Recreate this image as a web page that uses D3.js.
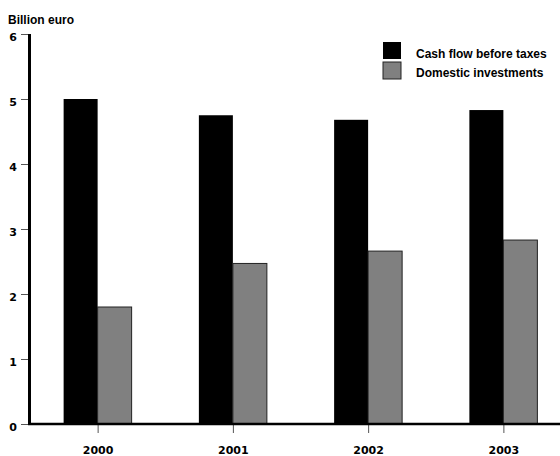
<!DOCTYPE html>
<html>
<head>
<meta charset="utf-8">
<script src="https://cdn.jsdelivr.net/npm/d3@7"></script>
<style>
  html, body { margin: 0; padding: 0; background: #fff; }
  svg { display: block; }
</style>
</head>
<body>
<svg id="chart" width="560" height="456"></svg>
<script>
const years = ["2000", "2001", "2002", "2003"];
const seriesNames = ["Cash flow before taxes", "Domestic investments"];
const cashFlow = [5.0, 4.75, 4.68, 4.83];
const domesticInv = [1.8, 2.47, 2.66, 2.83];
const yTicks = [0, 1, 2, 3, 4, 5, 6];
const yTitle = "Billion euro";
const colors = ["#000000", "#808080"];

const svg = d3.select("#chart");
const x0 = 30, x1 = 571, yTop = 34, yBot = 424;

const x = d3.scalePoint().domain(years).range([x0, x1]).padding(0.5);
const xs = d3.scaleBand().domain(seriesNames).range([-34, 34]);
const y = d3.scaleLinear().domain([0, 6]).range([yBot, yTop]);

const data = years.map((yr, i) => ({ year: yr, values: [cashFlow[i], domesticInv[i]] }));

// bars
const g = svg.append("g");
data.forEach(d => {
  seriesNames.forEach((s, j) => {
    g.append("rect")
      .attr("x", x(d.year) + xs(s))
      .attr("y", y(d.values[j]))
      .attr("width", xs.bandwidth())
      .attr("height", y(0) - y(d.values[j]))
      .attr("fill", colors[j])
      .attr("stroke", j === 0 ? "none" : "#222")
      .attr("stroke-width", 1);
  });
});

// y axis
const yAxis = d3.axisLeft(y).tickValues(yTicks).tickSize(7).tickPadding(4).tickFormat(d3.format("d"));
const ya = svg.append("g").attr("transform", "translate(28,0)").call(yAxis);
ya.select(".domain").remove();
ya.selectAll(".tick line").attr("stroke", "#555").attr("stroke-width", 1);
ya.selectAll(".tick text")
  .attr("font-family", "DejaVu Sans, sans-serif")
  .attr("font-weight", "bold")
  .attr("font-size", 11)
  .attr("dy", "0.55em")
  .attr("fill", "#000");
svg.append("line").attr("x1", 29.5).attr("x2", 29.5).attr("y1", yTop).attr("y2", yBot + 1)
  .attr("stroke", "#000").attr("stroke-width", 3);

// x axis
const xAxis = d3.axisBottom(x).tickSize(9).tickPadding(13);
const xa = svg.append("g").attr("transform", `translate(0,${yBot})`).call(xAxis);
xa.select(".domain").remove();
xa.selectAll(".tick line").attr("stroke", "#555").attr("stroke-width", 1);
xa.selectAll(".tick text")
  .attr("font-family", "DejaVu Sans, sans-serif")
  .attr("font-weight", "bold")
  .attr("font-size", 11)
  .attr("fill", "#000");
svg.append("line").attr("x1", 28).attr("x2", 571).attr("y1", yBot).attr("y2", yBot)
  .attr("stroke", "#000").attr("stroke-width", 2.5);

// y title
svg.append("text").attr("x", 8).attr("y", 24).text(yTitle)
  .attr("font-family", "Liberation Sans, Arial, sans-serif")
  .attr("font-weight", "bold").attr("font-size", 12);

// legend
const lg = svg.append("g").attr("transform", "translate(383,42)");
seriesNames.forEach((s, j) => {
  lg.append("rect").attr("x", 0).attr("y", j * 20).attr("width", 18).attr("height", 17)
    .attr("fill", colors[j]).attr("stroke", j === 0 ? "none" : "#222").attr("stroke-width", 1);
  lg.append("text").attr("x", 33).attr("y", j * 18.5 + 16).text(s)
    .attr("font-family", "Liberation Sans, Arial, sans-serif")
    .attr("font-weight", "bold").attr("font-size", 12);
});
</script>
</body>
</html>
